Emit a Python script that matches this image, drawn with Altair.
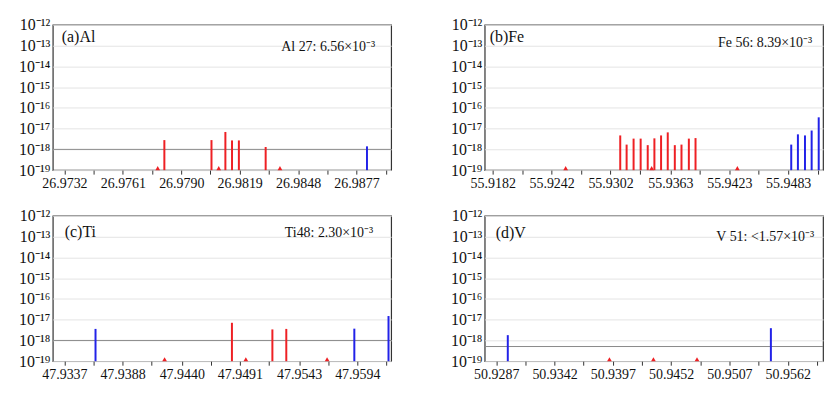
import json
import altair as alt
import pandas as pd

FONT = "Liberation Serif"
RED = "#ee2024"
BLUE = "#2222e8"
BASE = 1e-19

# ---------------- data ----------------
# (a) Al
al_red_mz = [26.97816, 26.98050, 26.98119, 26.98152, 26.98186, 26.98319]
al_red_val = [2.8e-18, 2.8e-18, 6.9e-18, 2.7e-18, 2.7e-18, 1.3e-18]
al_blue_mz = [26.98822]
al_blue_val = [1.4e-18]
al_tri_mz = [26.97783, 26.98086, 26.98390]
al_limit = 1e-18
al_ticks = [26.9732, 26.9761, 26.9790, 26.9819, 26.9848, 26.9877]
al_domain = [26.97262, 26.98942]

# (b) Fe
fe_red_mz = [55.93119, 55.93184, 55.93255, 55.93327, 55.93399, 55.93467,
             55.93535, 55.93603, 55.93675, 55.93743, 55.93818, 55.93886]
fe_red_val = [4.7e-18, 1.7e-18, 3.3e-18, 3.3e-18, 1.6e-18, 3.4e-18,
              4.7e-18, 6.6e-18, 1.6e-18, 1.7e-18, 3.3e-18, 3.5e-18]
fe_blue_mz = [55.94861, 55.94929, 55.95001, 55.95069, 55.95141]
fe_blue_val = [1.7e-18, 5.3e-18, 4.7e-18, 8.1e-18, 3.5e-17]
fe_tri_mz = [55.92563, 55.93439, 55.94312]
fe_limit = None
fe_ticks = [55.9182, 55.9242, 55.9302, 55.9363, 55.9423, 55.9483]
fe_domain = [55.91738, 55.95185]

# (c) Ti
ti_red_mz = [47.94840, 47.95195, 47.95317]
ti_red_val = [7.1e-18, 3.4e-18, 3.6e-18]
ti_blue_mz = [47.93643, 47.95914, 47.96214]
ti_blue_val = [3.6e-18, 3.7e-18, 1.5e-17]
ti_tri_mz = [47.94249, 47.94962, 47.95675]
ti_limit = 1e-18
ti_ticks = [47.9337, 47.9388, 47.9440, 47.9491, 47.9543, 47.9594]
ti_domain = [47.93268, 47.96237]

# (d) V
v_red_mz = []
v_red_val = []
v_blue_mz = [50.92979, 50.95461]
v_blue_val = [1.8e-18, 3.9e-18]
v_tri_mz = [50.93938, 50.94353, 50.94764]
v_limit = 5.1e-19
v_ticks = [50.9287, 50.9342, 50.9397, 50.9452, 50.9507, 50.9562]
v_domain = [50.92761, 50.95953]

y_ticks = [1e-12, 1e-13, 1e-14, 1e-15, 1e-16, 1e-17, 1e-18, 1e-19]
y_labels = ["10⁻¹²", "10⁻¹³", "10⁻¹⁴", "10⁻¹⁵", "10⁻¹⁶", "10⁻¹⁷", "10⁻¹⁸", "10⁻¹⁹"]

W, H = 340, 146


def panel(red_mz, red_val, blue_mz, blue_val, tri_mz, limit, ticks, domain,
          tag, note, tag_pos, note_pos):
    lines = pd.DataFrame({
        "mz": red_mz + blue_mz,
        "val": red_val + blue_val,
        "kind": ["red"] * len(red_mz) + ["blue"] * len(blue_mz),
    })
    lines["base"] = BASE
    tri = pd.DataFrame({"mz": tri_mz, "base": [BASE] * len(tri_mz)})

    step = ticks[1] - ticks[0]
    minors = [round(t + step / 2, 6) for t in ticks]
    minors = [m for m in minors if domain[0] < m < domain[1]]
    all_ticks = sorted(ticks + minors)
    label_expr = ("indexof(%s, datum.value) >= 0 ? format(datum.value, '.4f') : ''"
                  % json.dumps(ticks))

    xscale = alt.Scale(domain=domain, nice=False, zero=False)
    yscale = alt.Scale(type="log", domain=[1e-19, 1e-12], nice=False)
    xaxis = alt.Axis(values=all_ticks, labelExpr=label_expr, title=None, grid=False,
                     domain=False, tickSize=4, tickColor="#333", labelFontSize=14,
                     labelPadding=2, labelFlush=False, labelOverlap=False,
                     labelColor="#111")
    yaxis = alt.Axis(values=y_ticks,
                     labelExpr="%s[round(-log(datum.value)/LN10) - 12]" % json.dumps(y_labels, ensure_ascii=False),
                     title=None, grid=True, gridColor="#e4e4e4", gridWidth=1,
                     ticks=False, domain=False, labelFontSize=16, labelPadding=3,
                     labelColor="#111")

    base_x = alt.X("mz:Q", scale=xscale, axis=xaxis)
    rules = alt.Chart(lines).mark_rule(strokeWidth=2).encode(
        x=base_x,
        y=alt.Y("val:Q", scale=yscale, axis=yaxis),
        y2="base:Q",
        color=alt.Color("kind:N", scale=alt.Scale(domain=["red", "blue"], range=[RED, BLUE]),
                        legend=None),
    )
    layers = [rules]
    if limit is not None:
        lim = pd.DataFrame({"lim": [limit]})
        layers.insert(0, alt.Chart(lim).mark_rule(color="#8a8a8a", strokeWidth=1).encode(
            y=alt.Y("lim:Q", scale=yscale, axis=yaxis)))
    layers.append(alt.Chart(tri).mark_point(shape="triangle-up", filled=True, size=22,
                                            color=RED, opacity=1, yOffset=-2).encode(
        x=base_x, y=alt.Y("base:Q", scale=yscale, axis=yaxis)))
    t1 = pd.DataFrame({"t": [tag]})
    t2 = pd.DataFrame({"t": [note]})
    layers.append(alt.Chart(t1).mark_text(align="left", baseline="middle", fontSize=16,
                                          font=FONT, color="#111").encode(
        x=alt.value(tag_pos[0]), y=alt.value(tag_pos[1]), text="t:N"))
    layers.append(alt.Chart(t2).mark_text(align="right", baseline="middle", fontSize=14,
                                          font=FONT, color="#111").encode(
        x=alt.value(note_pos[0]), y=alt.value(note_pos[1]), text="t:N"))
    return alt.layer(*layers).properties(width=W, height=H)


pa = panel(al_red_mz, al_red_val, al_blue_mz, al_blue_val, al_tri_mz, al_limit,
           al_ticks, al_domain, "(a)Al", "Al 27: 6.56×10⁻³", (9, 12), (324, 22))
pb = panel(fe_red_mz, fe_red_val, fe_blue_mz, fe_blue_val, fe_tri_mz, fe_limit,
           fe_ticks, fe_domain, "(b)Fe", "Fe 56: 8.39×10⁻³", (5, 12), (329, 18))
pc = panel(ti_red_mz, ti_red_val, ti_blue_mz, ti_blue_val, ti_tri_mz, ti_limit,
           ti_ticks, ti_domain, "(c)Ti", "Ti48: 2.30×10⁻³", (12, 16), (322, 17))
pd_ = panel(v_red_mz, v_red_val, v_blue_mz, v_blue_val, v_tri_mz, v_limit,
            v_ticks, v_domain, "(d)V", "V 51: <1.57×10⁻³", (11, 17), (331, 21))

chart = alt.vconcat(
    alt.hconcat(pa, pb, spacing=57),
    alt.hconcat(pc, pd_, spacing=57),
    spacing=16,
).properties(
    padding={"left": 10, "top": 7, "right": 5, "bottom": 5},
    background="white",
).configure_view(
    stroke="#333", strokeWidth=1.2
).configure_axis(
    labelFont=FONT
).configure_text(font=FONT)

chart.save("out.html", embed_options={"renderer": "svg", "actions": False})
